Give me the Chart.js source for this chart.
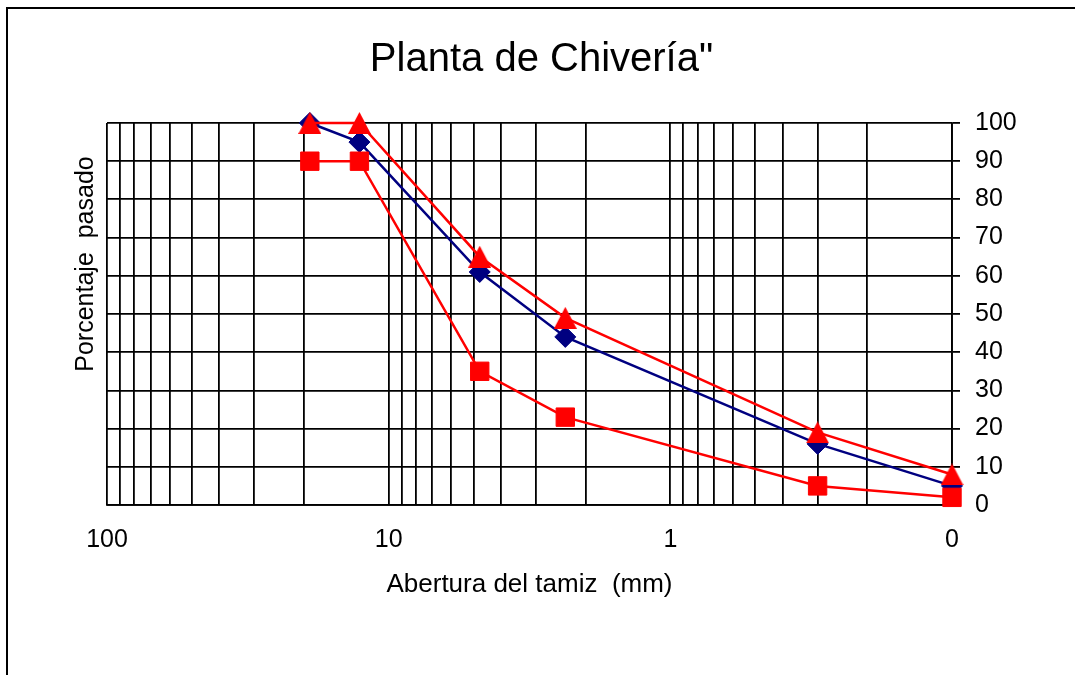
<!DOCTYPE html>
<html><head><meta charset="utf-8">
<script src="https://cdn.jsdelivr.net/npm/chart.js@4.4.1/dist/chart.umd.min.js"></script>
<style>
html,body{margin:0;padding:0;background:#fff;overflow:hidden;}
#wrap{position:relative;width:1075px;height:675px;overflow:hidden;}
#frame{position:absolute;left:6px;top:7px;width:1200px;height:800px;border:2px solid #000;box-sizing:border-box;pointer-events:none;}
canvas{position:absolute;left:0;top:0;}
</style></head><body>
<div id="wrap"><canvas id="c" width="1075" height="675"></canvas><div id="frame"></div></div>
<script>
const chartTitle = 'Planta de Chivería"';
const xTitle = 'Abertura del tamiz  (mm)';
const yTitle = 'Porcentaje  pasado';

// sieve openings (mm)
const sieveSizes = [19.05, 12.7, 4.75, 2.36, 0.3, 0.1];
// series (% passing)
const muestra = [100, 95, 61, 44, 16, 5];
const limiteSuperior = [100, 100, 65, 49, 19, 8];
const limiteInferior = [90, 90, 35, 23, 5, 2];

// x axis tick labels and grid values
const xLabelValues = [100, 10, 1, 0.1];
const xLabelTexts = ['100', '10', '1', '0'];
const xGridValues = [0.1,0.2,0.3,0.4,0.5,0.6,0.7,0.8,0.9,1,2,3,4,5,6,7,8,9,10,20,30,40,50,60,70,80,90,100];
// y axis ticks
const yMin = 0, yMax = 100, yStep = 10;

const FAMILY = '"Liberation Sans", Arial, sans-serif';
Chart.defaults.font.family = FAMILY;
Chart.defaults.color = '#000';

function makeTriangle(w, h, color) {
  const c = document.createElement('canvas');
  c.width = w; c.height = h;
  const g = c.getContext('2d');
  g.fillStyle = color;
  g.beginPath();
  g.moveTo(w / 2, 0);
  g.lineTo(w, h);
  g.lineTo(0, h);
  g.closePath();
  g.fill();
  return c;
}
const triangle = makeTriangle(23, 22, '#ff0000');

const toPoints = (ys) => sieveSizes.map((x, i) => ({x: x, y: ys[i]}));

const yTitlePlugin = {
  id: 'yTitlePlugin',
  afterDraw(chart) {
    const ctx = chart.ctx, a = chart.chartArea;
    ctx.save();
    ctx.font = '25px ' + FAMILY;
    ctx.fillStyle = '#000';
    ctx.textAlign = 'center';
    ctx.textBaseline = 'alphabetic';
    ctx.translate(a.left - 14, a.top + 141);
    ctx.rotate(-Math.PI / 2);
    ctx.fillText(yTitle, 0, 0);
    ctx.restore();
  }
};

new Chart(document.getElementById('c'), {
  type: 'line',
  data: {
    datasets: [
      {
        label: 'Límite superior', data: toPoints(limiteSuperior), yAxisID: 'y',
        borderColor: '#ff0000', backgroundColor: '#ff0000', borderWidth: 2.5,
        pointStyle: triangle, pointRadius: 12, clip: false, order: 1
      },
      {
        label: 'Límite inferior', data: toPoints(limiteInferior), yAxisID: 'y',
        borderColor: '#ff0000', backgroundColor: '#ff0000', borderWidth: 2.5,
        pointStyle: 'rect', pointRadius: 13, pointBorderWidth: 1, clip: false, order: 2
      },
      {
        label: 'Muestra', data: toPoints(muestra), yAxisID: 'y',
        borderColor: '#000080', backgroundColor: '#000080', borderWidth: 2.5,
        pointStyle: 'rectRot', pointRadius: 10.5, pointBorderWidth: 1, clip: false, order: 3
      }
    ]
  },
  options: {
    responsive: false,
    animation: false,
    events: [],
    layout: { padding: { left: 8, right: 0, top: 0, bottom: 74.5 } },
    plugins: {
      legend: { display: false },
      tooltip: { enabled: false },
      title: {
        display: true, text: chartTitle, color: '#000',
        font: { size: 40, weight: 'normal', family: FAMILY, lineHeight: 1.2 },
        padding: { top: 35.5, bottom: 39.5 }
      }
    },
    scales: {
      x: {
        type: 'logarithmic', min: 0.1, max: 100, reverse: true, position: 'bottom',
        afterBuildTicks: (s) => { s.ticks = xGridValues.map(v => ({ value: v })); },
        afterFit: (s) => { s.height = 95.5; },
        ticks: {
          autoSkip: false, maxRotation: 0, minRotation: 0, padding: 20, color: '#000',
          font: { size: 25 },
          callback: (v) => { const i = xLabelValues.indexOf(v); return i >= 0 ? xLabelTexts[i] : ''; }
        },
        grid: { color: '#000', lineWidth: 1.8, drawTicks: false },
        border: { display: true, color: '#000', width: 1.8 },
        title: { display: true, text: xTitle, color: '#000', font: { size: 26 }, padding: { top: 0, bottom: 0 } }
      },
      y: {
        type: 'linear', position: 'right', min: yMin, max: yMax,
        afterFit: (s) => { s.width = 123; },
        ticks: { stepSize: yStep, padding: 15, color: '#000', font: { size: 25 } },
        grid: { color: '#000', lineWidth: 1.8, drawTicks: true, tickLength: 8 },
        border: { display: true, color: '#000', width: 1.8 }
      },
      yL: {
        type: 'linear', position: 'left', display: true,
        afterFit: (s) => { s.width = 99; },
        ticks: { display: false },
        grid: { display: false, drawTicks: false },
        border: { display: false }
      }
    }
  },
  plugins: [yTitlePlugin]
});
</script>
</body></html>
